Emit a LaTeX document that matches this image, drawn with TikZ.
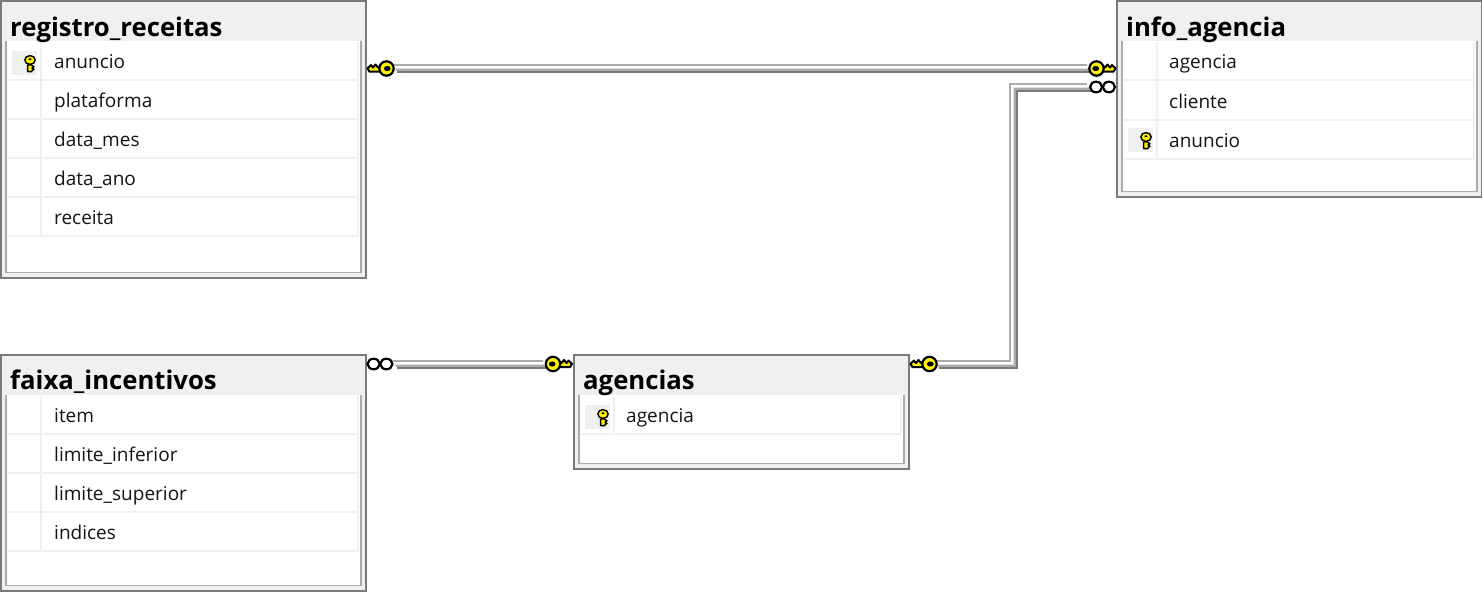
\documentclass[tikz,border=0pt]{standalone}
\usepackage{fontspec}
\setmainfont{Open Sans}
\definecolor{frameDark}{HTML}{7A7A7A}
\definecolor{frameMid}{HTML}{ABABAB}
\definecolor{band}{HTML}{F0F0F0}
\definecolor{keyYellow}{HTML}{FFF200}
\tikzset{
  outerbox/.style={draw=frameDark,line width=2pt,fill=band,inner sep=0pt,anchor=north west},
  titletext/.style={font=\fontsize{25.7}{27}\selectfont\bfseries,anchor=base west,inner sep=0pt,text=black},
  rowtext/.style={font=\fontsize{19}{22}\selectfont,anchor=base west,inner sep=0pt,text=black!92},
  rowrule/.style={draw=band,line width=2pt},
  keycell/.style={fill=band,draw=none},
  hkey/.pic={
    \draw[black,line width=2pt,fill=keyYellow,line join=round]
      (-5pt,-3.2pt) -- (-17pt,-3.2pt) -- (-19pt,0.2pt) -- (-15.5pt,3.4pt) -- (-13.5pt,1pt)
      -- (-11pt,4pt) -- (-8.5pt,1pt) -- (-5pt,3.4pt) -- cycle;
    \draw[black,line width=2.2pt,fill=keyYellow] (0pt,0pt) ellipse[x radius=7.2pt,y radius=7.2pt];
    \fill[black] (0.8pt,0pt) ellipse[x radius=3.4pt,y radius=2.6pt];
  },
  rowkey/.pic={
    \draw[black,line width=1.4pt,fill=keyYellow,line join=round]
      (-2.4pt,-2pt) -- (-2.4pt,-8.6pt) -- (2pt,-8.6pt) -- (2pt,-7.6pt) -- (4pt,-6.4pt) -- (2pt,-5pt)
      -- (4pt,-3.8pt) -- (2pt,-2.5pt) -- (2pt,-2pt) -- cycle;
    \draw[black,line width=1.4pt,fill=keyYellow] (0pt,3pt) ellipse[x radius=5.2pt,y radius=4.4pt];
    \fill[black] (0pt,3.8pt) ellipse[x radius=1.8pt,y radius=1.1pt];
  },
  manyend/.pic={
    \draw[black,line width=2.2pt,fill=white] (-6.4pt,0pt) ellipse[x radius=6pt,y radius=5.3pt];
    \draw[black,line width=2.2pt,fill=white] (6.4pt,0pt) ellipse[x radius=6pt,y radius=5.3pt];
  }
}
% #1 name, #2 x, #3 y, #4 width, #5 height, #6 title, #7 last rule offset, #8 title baseline offset
\newcommand{\dbtable}[8]{%
  \node[outerbox,minimum width=#4pt-1pt,minimum height=#5pt-1pt,outer sep=0pt] (#1) at (#2+1,#3+1) {};
  \fill[white] (#2+7,#3+41) rectangle (#2+#4-6,#3+#5-6);
  \draw[frameMid,line width=1.6pt] (#2+6,#3+41) -- (#2+6,#3+#5-5.5) -- (#2+#4-5,#3+#5-5.5) -- (#2+#4-5,#3+41);
  \fill[band] (#2+2,#3+2) rectangle (#2+#4-2,#3+41);
  \draw[band,line width=2pt] (#2+41,#3+42) -- (#2+41,#3+#7);
  \draw[band,line width=2pt] (#2+#4-8,#3+42) -- (#2+#4-8,#3+#7);
  \node[titletext] (#1-title) at (#2+10,#3+#8) {#6};
}
% #1 table x, #2 table width, #3 rule y
\newcommand{\rowrules}[3]{\foreach \ry in {#3} {\draw[rowrule] (#1+8,\ry) -- (#1+#2-8,\ry);}}
% #1 node name, #2 table x, #3 centre y, #4 text
\newcommand{\dbrow}[4]{\node[rowtext] (#1) at (#2+54,#3+7) {#4};}
% #1 table x, #2 centre y
\newcommand{\rowkeyicon}[2]{%
  \fill[keycell] (#1+12,#2-12) rectangle (#1+37,#2+12);
  \pic at (#1+30,#2) {rowkey};
}
% #1 path
\newcommand{\relation}[1]{%
  \draw[draw=frameMid,line width=2pt,transform canvas={xshift=-3.3pt,yshift=3.3pt}] #1;
  \draw[draw=white,line width=2pt,transform canvas={xshift=-1.5pt,yshift=1.5pt}] #1;
  \draw[draw=black!12,line width=2pt,transform canvas={xshift=0pt,yshift=0pt}] #1;
  \draw[draw=frameMid,line width=2pt,transform canvas={xshift=1.6pt,yshift=-1.6pt}] #1;
  \draw[draw=frameDark,line width=2pt,transform canvas={xshift=3.3pt,yshift=-3.3pt}] #1;
}
\begin{document}
\begin{tikzpicture}[x=1pt,y=-1pt]
\useasboundingbox[fill=white] (0,0) rectangle (1482,592);

% registro_receitas
\dbtable{registro}{0}{0}{366}{278}{registro\_receitas}{236}{36.5}
\rowrules{0}{366}{80,119,158,197,236}
\rowkeyicon{0}{63}
\dbrow{r1}{0}{61}{anuncio}
\dbrow{r2}{0}{100}{plataforma}
\dbrow{r3}{0}{139}{data\_mes}
\dbrow{r4}{0}{178}{data\_ano}
\dbrow{r5}{0}{217}{receita}

% info_agencia
\dbtable{info}{1116}{0}{366}{197}{info\_agencia}{159}{36.5}
\rowrules{1116}{366}{80,120,159}
\rowkeyicon{1116}{140}
\dbrow{i1}{1115}{61}{agencia}
\dbrow{i2}{1115}{101}{cliente}
\dbrow{i3}{1115}{140}{anuncio}

% faixa_incentivos
\dbtable{faixa}{0}{354}{366}{237}{faixa\_incentivos}{197}{35}
\rowrules{0}{366}{434,473,512,551}
\dbrow{f1}{0}{415}{item}
\dbrow{f2}{0}{454}{limite\_inferior}
\dbrow{f3}{0}{493}{limite\_superior}
\dbrow{f4}{0}{532}{indices}

% agencias
\dbtable{agencias}{573}{354}{336}{115}{agencias}{80}{35}
\rowrules{573}{336}{434}
\rowkeyicon{573}{417}
\dbrow{a1}{572}{415}{agencia}

% connector ends
\coordinate (regEnd) at (394,68.5);
\coordinate (infoKeyEnd) at (1090,68.5);
\coordinate (infoManyEnd) at (1090,87.5);
\coordinate (elbowTop) at (1013.5,87.5);
\coordinate (elbowBottom) at (1013.5,364.5);
\coordinate (agRightEnd) at (936,364.5);
\coordinate (faixaEnd) at (394,364.5);
\coordinate (agLeftEnd) at (546,364.5);

\relation{(regEnd) -- (infoKeyEnd)}
\relation{(agRightEnd) -- (elbowBottom) -- (elbowTop) -- (infoManyEnd)}
\relation{(faixaEnd) -- (agLeftEnd)}

\pic at (386.5,68.5) {hkey};
\pic[xscale=-1] at (1096.5,68.5) {hkey};
\pic at (1102.5,87) {manyend};
\pic at (380,364) {manyend};
\pic[xscale=-1] at (553,364) {hkey};
\pic at (929.5,364) {hkey};
\end{tikzpicture}
\end{document}
